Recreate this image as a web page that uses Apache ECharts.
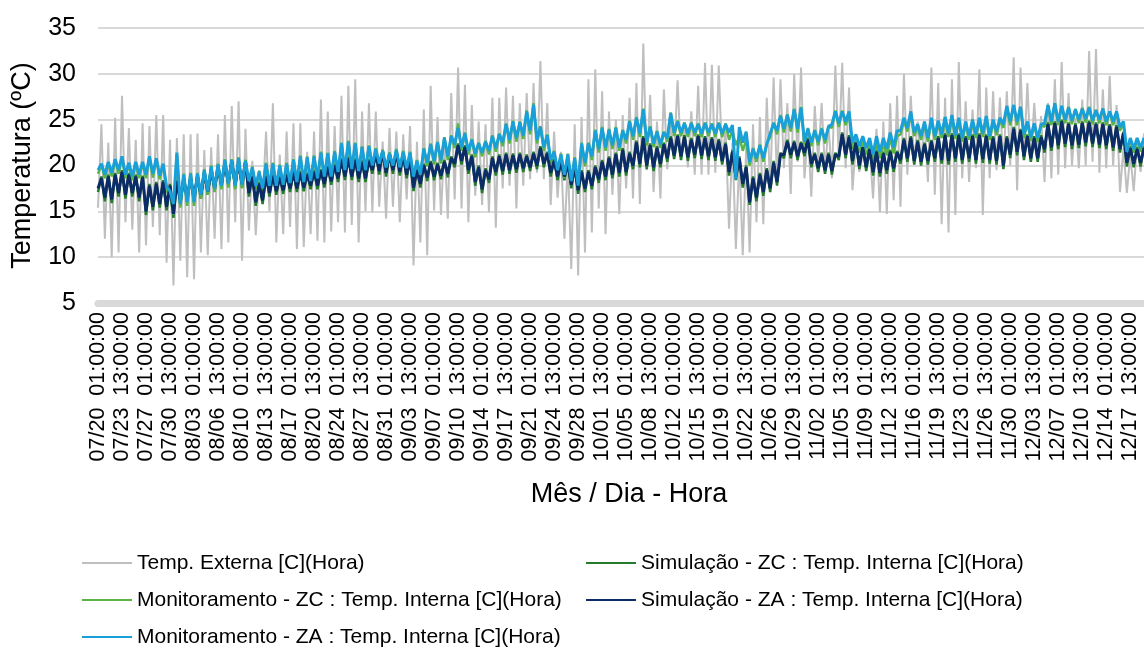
<!DOCTYPE html>
<html><head><meta charset="utf-8">
<script src="https://cdn.jsdelivr.net/npm/echarts/dist/echarts.min.js"></script>
<style>html,body{margin:0;padding:0;background:#fff}#chart{width:1144px;height:651px}</style>
</head><body><div id="chart"></div>
<script>
// 12-hourly samples (01:00 and 13:00) from 07/20 01:00 to 12/19 13:00
const extTemp = [
15.4,24.5, 12,22.5, 10,25.2, 10.5,27.6, 13.8,24.1, 13,22.8, 10.5,24.6, 11.3,24.3, 13.3,25.5, 12.4,25.5,
9.4,22.8, 6.9,23, 9.6,23.4, 7.8,23.4, 7.6,23.5, 10.5,21.7, 10.2,22, 12,23.4, 10.9,25.5, 11.6,26.5,
13.8,27, 9.6,24, 12.9,20.5, 12.4,19.5, 16,23.7, 15,26.8, 11.6,21.2, 12.5,23.7, 13.3,24.6, 10.9,24.6,
11.1,21.5, 12.5,23.7, 11.8,27.2, 11.6,25.9, 12.8,24.3, 13.8,27.6, 12.7,28.7, 13.5,29.4, 11.6,25.9, 15,26.8,
14.9,25.9, 15.5,22.6, 14.2,24.1, 15.5,23.7, 13.8,23.4, 16.3,24.3, 9.1,22.6, 11.6,26.1, 10.2,28.7, 15.1,25.3,
14.6,22.6, 14.2,27.9, 16.3,30.7, 15.3,28.8, 13.8,26.6, 16.7,24.8, 15.7,24.5, 14.9,27.4, 13.2,27.4, 17.5,28.5,
17.8,27.6, 15.3,26.8, 17.8,27.9, 18.5,29, 19.2,31.4, 18.5,26.8, 15.7,23.7, 16.5,21.5, 12,20.5, 8.7,24.5,
8,25.3, 10.5,29.4, 12.7,30.5, 15.3,28.1, 12.5,25.9, 16.8,25, 14.7,25.5, 17.5,27.4, 16.4,29, 15.8,33.3,
19.5,27.7, 17.1,24.8, 16.4,28.3, 19.6,24.5, 21,29.3, 20.6,24.5, 19.8,25.9, 19,28.7, 19,31.2, 19,31,
19.2,30.9, 20.4,24, 13.1,22.5, 10.9,21, 10.2,22, 10.5,24.5, 13.8,25.3, 13.6,27.4, 17.5,29.6, 18.2,29.4,
19.7,26.8, 16.9,30, 20.4,30.7, 18.6,23.7, 16.6,26.5, 20.4,26.8, 19.3,24.5, 18.6,30.9, 20.8,31.2, 19.7,28.5,
17.3,22.6, 19.3,21.2, 20.4,22, 16.4,24, 14.9,24.8, 14.7,26.8, 16.2,27.6, 15.5,30, 19,27.6, 20.1,24.8,
20.4,24.8, 18.2,30.7, 16.8,29, 13.6,27.4, 12.7,29.4, 14.6,31.3, 18.6,27, 18.2,26.1, 19.7,30.5, 14.6,28.5,
18.6,28.1, 19.5,27.4, 19.7,28.1, 20,31.8, 17.3,30.7, 20.8,29, 20.4,26.8, 21.2,25.4, 18.2,26.8, 18.6,29.4,
19,31.3, 19.7,27.9, 20,25.2, 19.7,27.2, 20,32.5, 20.4,32.7, 19.2,28.3, 19.7,29.8, 20,26.6, 17.1,21.9,
17,21.2, 17.2,22.6, 19.3,23.5
];
const simZC = [
17.1,18.8, 16.1,19, 15.9,19.2, 16.6,19.5, 16.4,19.2, 16.6,19, 16.1,18.9, 14.6,18, 15.1,18.2, 15.4,18.4,
15.1,18, 14.3,18.5, 15.8,18.7, 16.1,18.8, 16.1,19, 16.4,19.4, 16.8,19.7, 17.2,20, 17.6,20.4, 17.8,20.6,
17.6,20.5, 17.6,20.6, 16.6,19, 15.6,18.2, 15.8,19, 16.6,19.1, 16.8,18.9, 16.9,19.2, 17.1,19.4, 17.1,19.4,
17.2,19.2, 17.4,19.5, 17.4,19.6, 17.6,20, 17.9,20.2, 18.2,20.8, 18.4,21, 18.4,20.8, 18.2,20.6, 18.2,20.7,
19.1,21.5, 19,21.7, 18.8,21.4, 19.1,21.6, 18.9,21.3, 18.6,20.8, 17.2,19.7, 17.6,20.2, 18.3,20.5, 18.4,20.3,
18.5,20.6, 18.7,21, 19.8,22.4, 20.1,22.2, 19.1,21.2, 17.8,20, 17,19.7, 18.1,21, 18.9,21.2, 19,21.4,
19.1,21.3, 19.2,21.4, 19.3,21.2, 19.4,21.5, 19.6,22.1, 19.8,21.5, 18.8,20.7, 18.4,20.6, 18.4,20.4, 17.5,20,
16.9,19.5, 17.1,19.5, 17.4,20, 18.1,20.6, 18.4,21, 18.6,21.4, 18.8,21.9, 18.9,21.5, 19.6,22.7, 19.8,23.2,
19.6,22.4, 19.4,22.1, 19.8,22.5, 20.4,23.2, 20.7,23.4, 20.6,23.3, 20.5,23, 20.8,23.4, 20.7,23.2, 20.6,23.1,
20.5,22.9, 20.1,22.5, 18.9,21.7, 18.4,21, 17.6,20, 15.7,18.8, 16.1,19.2, 16.7,19.7, 17.1,20.5, 17.8,21.4,
20.8,22.8, 20.8,22.7, 20.6,22.6, 21,23, 19.8,21.4, 19.3,21.4, 19.1,21.4, 19,21.4, 20.6,23.6, 20.8,23.3,
20.1,22.7, 19.6,22.2, 19.4,22, 18.9,21.7, 18.8,21.5, 19.1,21.7, 19.3,21.6, 20.2,23, 20.4,23.2, 20.1,22.8,
20,22.5, 20.1,22.8, 20.4,23.2, 20.2,23.5, 20.1,23.5, 20.4,23.5, 20.2,23.2, 20.4,23.4, 20.2,23.5, 20.3,23.4,
20.2,23.2, 20.1,23.4, 19.6,23.2, 20.8,24.2, 21.1,24, 20.6,23.4, 20.4,23.2, 20.4,23.3, 21.4,24.7, 21.6,24.8,
21.8,25, 22,24.7, 21.8,24.6, 21.9,24.8, 22.1,24.9, 22,24.7, 21.9,24.7, 21.8,24.5, 21.6,24.4, 21.4,23.7,
19.9,22.1, 19.8,22, 19.9,22.1
];
const monZC = [
19.1,20.1, 18.6,20.3, 18.8,20.6, 19.1,20.9, 18.6,20.2, 18.4,20.3, 18.6,20.3, 18.6,20.9, 18.7,20.7, 18.5,20.1,
17.2,16.8, 14.6,21.2, 15.4,19.1, 15.6,19.2, 15.6,19.2, 16.4,19.6, 16.8,20, 17.1,20.2, 17.4,20.7, 17.6,20.7,
17.4,20.9, 17.5,20.6, 17.9,19.9, 17.4,19.4, 17.1,20.3, 17.4,20.3, 17.4,20.1, 17.5,20.3, 17.7,20.7, 17.8,21.1,
17.8,21, 17.9,21.1, 18.2,21.5, 18.4,21.4, 18.4,21.6, 18.9,22.5, 19.1,22.7, 19.2,22.5, 19,22.1, 19.1,22.2,
19.6,21.9, 19.8,21.7, 19.4,21.4, 19.6,21.8, 19.4,21.6, 19.3,21.5, 18.4,20.6, 18.6,21.9, 19.9,22.4, 20.1,22.6,
20.2,23.1, 20.6,23.3, 21.9,24.6, 21.6,23.6, 21.2,22.9, 20.9,22.5, 21,22.7, 21.2,23.3, 21.5,23.5, 22.1,24.6,
22.4,24.9, 22.6,24.8, 22.9,26, 23.4,26.8, 22.4,24.3, 21.6,23.4, 20.2,21.6, 19.1,21.3, 18.6,21.3, 17.9,20.9,
17.4,22.5, 19.9,22.5, 20.6,23.9, 21.4,24.2, 21.6,24, 21.8,24.2, 21.6,23.9, 22.4,24.9, 22.8,25.3, 23.1,26.2,
22.2,24.3, 22,23.8, 21.9,23.7, 22.6,25.8, 23.2,24.9, 23.2,24.7, 23.1,24.7, 23.2,24.6, 23.1,24.7, 23.2,24.6,
23.1,24.7, 23.1,24.6, 22.8,23.8, 22.2,23.2, 21.6,22.8, 20,21.9, 20.4,22.3, 20.4,22.4, 23.1,24.7, 23.4,25.5,
23.6,25.6, 23.7,26.2, 23.6,26.4, 22.2,24.1, 22.1,23.9, 22.2,24.1, 22.4,24.3, 24.1,26, 24.2,26, 24.4,25.7,
21.8,22.9, 21.4,22.6, 21.2,22.5, 20.5,22.6, 20.8,22.4, 21.1,23, 21.3,23.2, 23.4,24.9, 23.7,25.6, 23.2,24.3,
22.8,24.5, 22.6,24.9, 22.8,24.6, 23,25, 23.1,25.2, 22.9,24.9, 22.6,24.5, 22.8,24.7, 23,24.9, 23.1,25.1,
22.8,24.7, 23.3,25, 24.1,26.4, 24.4,26.6, 24.4,26.4, 23,24.7, 22.7,24.5, 22.6,24.4, 24.2,26.6, 24.4,26.8,
24.4,26.5, 24.6,26.4, 24.5,26.2, 24.6,26.3, 24.7,26.4, 24.5,26.1, 24.6,26.2, 24.4,25.9, 24.4,25.8, 23.8,24.6,
21.1,22.9, 21.4,22.9, 21.5,22.9
];
const simZA = [
17.5,18.6, 16.5,18.8, 16.3,19, 17,19.3, 16.8,19, 17,18.8, 16.5,18.7, 15,17.8, 15.5,18, 15.8,18.2,
15.5,17.8, 14.7,18.3, 16.2,18.5, 16.5,18.6, 16.5,18.8, 16.8,19.2, 17.2,19.5, 17.6,19.8, 18,20.2, 18.2,20.4,
18,20.3, 18,20.4, 17,18.8, 16,18, 16.2,18.8, 17,18.9, 17.2,18.7, 17.3,19, 17.5,19.2, 17.5,19.2,
17.6,19, 17.8,19.3, 17.8,19.4, 18,19.8, 18.3,20, 18.6,20.6, 18.8,20.8, 18.8,20.6, 18.6,20.4, 18.6,20.5,
19.5,21.3, 19.4,21.5, 19.2,21.2, 19.5,21.4, 19.3,21.1, 19,20.6, 17.6,19.5, 18,20, 18.7,20.3, 18.8,20.1,
18.9,20.4, 19.1,20.8, 20.2,22.2, 20.5,22, 19.5,21, 18.2,19.8, 17.4,19.5, 18.5,20.8, 19.3,21, 19.4,21.2,
19.5,21.1, 19.6,21.2, 19.7,21, 19.8,21.3, 20,21.9, 20.2,21.3, 19.2,20.5, 18.8,20.4, 18.8,20.2, 17.9,19.8,
17.3,19.3, 17.5,19.3, 17.8,19.8, 18.5,20.4, 18.8,20.8, 19,21.2, 19.2,21.7, 19.3,21.3, 20,22.5, 20.2,23,
20,22.2, 19.8,21.9, 20.2,22.3, 20.8,23, 21.1,23.2, 21,23.1, 20.9,22.8, 21.2,23.2, 21.1,23, 21,22.9,
20.9,22.7, 20.5,22.3, 19.3,21.5, 18.8,20.8, 18,19.8, 16,18.6, 16.5,19, 17.1,19.5, 17.5,20.3, 18.2,21.2,
21.2,22.6, 21.2,22.5, 21,22.4, 21.4,22.8, 20.2,21.2, 19.7,21.2, 19.5,21.2, 19.4,21.2, 21,23.4, 21.2,23.1,
20.5,22.5, 20,22, 19.8,21.8, 19.3,21.5, 19.2,21.3, 19.5,21.5, 19.7,21.4, 20.6,22.8, 20.8,23, 20.5,22.6,
20.4,22.3, 20.5,22.6, 20.8,23, 20.6,23.3, 20.5,23.3, 20.8,23.3, 20.6,23, 20.8,23.2, 20.6,23.3, 20.7,23.2,
20.6,23, 20.5,23.2, 20,23, 21.2,24, 21.5,23.8, 21,23.2, 20.8,23, 20.8,23.1, 21.8,24.5, 22,24.6,
22.2,24.8, 22.4,24.5, 22.2,24.4, 22.3,24.6, 22.5,24.7, 22.4,24.5, 22.3,24.5, 22.2,24.3, 22,24.2, 21.8,23.5,
20.3,21.9, 20.2,21.8, 20.3,21.9
];
const monZA = [
19.5,20.2, 19,20.4, 19.2,20.7, 19.5,21, 19,20.3, 18.8,20.4, 19,20.4, 19,21, 19.1,20.8, 18.9,20.2,
17.7,17.2, 15.8,21.4, 15.8,19, 16,19.1, 16,19.1, 16.8,19.5, 17.2,19.9, 17.5,20.1, 17.8,20.6, 18,20.6,
17.8,20.8, 17.9,20.5, 18.3,19.8, 17.8,19.3, 17.5,20.2, 17.8,20.2, 17.8,20, 17.9,20.2, 18.1,20.6, 18.2,21,
18.2,20.9, 18.3,21, 18.6,21.4, 18.8,21.3, 18.8,21.5, 19.3,22.4, 19.5,22.6, 19.6,22.4, 19.4,22, 19.5,22.1,
20,21.8, 20.2,21.6, 19.8,21.3, 20,21.7, 19.8,21.5, 19.7,21.4, 18.8,20.5, 19,21.8, 20.3,22.3, 20.5,22.5,
20.6,23, 21,23.2, 22.3,24.1, 22,23.5, 21.6,22.8, 21.3,22.4, 21.4,22.6, 21.6,23.2, 21.9,23.4, 22.5,24.5,
22.8,24.8, 23,24.7, 23.3,25.9, 23.8,26.6, 22.8,24.2, 22,23.3, 20.6,21.5, 19.5,21.2, 19,21.2, 18.3,20.8,
17.8,22.4, 20.3,22.4, 21,23.8, 21.8,24.1, 22,23.9, 22.2,24.1, 22,23.8, 22.8,24.8, 23.2,25.2, 23.5,26.1,
22.6,24.2, 22.4,23.7, 22.3,23.6, 23,25.7, 23.6,24.8, 23.6,24.6, 23.5,24.6, 23.6,24.5, 23.5,24.6, 23.6,24.5,
23.5,24.6, 23.5,24.5, 23.6,24.4, 18.5,24.2, 22.5,23.7, 20.4,21.8, 20.8,22.2, 20.8,22.3, 23.5,24.6, 23.8,25.4,
24,25.5, 24.1,26.1, 24,26.3, 22.6,24, 22.5,23.8, 22.6,24, 22.8,24.2, 24.5,25.9, 24.6,25.9, 24.8,25.9,
22.5,23.4, 22.1,23.2, 21.9,23, 21.2,23.2, 21.5,23, 21.8,23.6, 22,23.8, 23.8,25.2, 24.1,25.9, 23.6,24.5,
23.2,24.8, 23,25.2, 23.2,24.9, 23.4,25.3, 23.5,25.5, 23.3,25.2, 23,24.8, 23.2,25, 23.4,25.2, 23.5,25.4,
23.2,25, 23.7,25.2, 24.5,26.5, 24.8,26.6, 24.8,26.4, 23.4,24.8, 23.1,24.6, 23,24.5, 24.6,26.6, 24.8,26.8,
24.8,26.5, 25,26.3, 24.9,26.1, 25,26.2, 25.1,26.3, 24.9,26, 25,26.2, 24.8,25.9, 24.8,25.9, 24.2,24.8,
21.5,23, 21.8,23, 21.9,23
];
const seriesNames = [
  'Temp. Externa [C](Hora)',
  'Simulação - ZC : Temp. Interna [C](Hora)',
  'Monitoramento - ZC : Temp. Interna [C](Hora)',
  'Simulação - ZA : Temp. Interna [C](Hora)',
  'Monitoramento - ZA : Temp. Interna [C](Hora)'
];
const seriesColors = ['#bfbfbf', '#267a2c', '#5ab546', '#0b2c67', '#1aa0d8'];
const seriesWidths = [2, 2.5, 2.5, 3, 3];
const yTicks = {min: 5, max: 35, step: 5};
const axisTitles = {x: 'Mês / Dia - Hora', y: 'Temperatura (ºC)'};

// category labels: "MM/DD  HH:MM:SS", every 12 h starting 07/20 01:00
const monthLen = {7: 31, 8: 31, 9: 30, 10: 31, 11: 30, 12: 31};
const pad = n => (n < 10 ? '0' : '') + n;
const categories = [];
(function () {
  let m = 7, d = 20, h = 1;
  for (let i = 0; i < extTemp.length; i++) {
    categories.push(pad(m) + '/' + pad(d) + '  ' + pad(h) + ':00:00');
    h += 12;
    if (h > 24) { h -= 24; d++; if (d > monthLen[m]) { d = 1; m++; } }
  }
})();

const FONT = "'Liberation Sans', Arial, Helvetica, sans-serif";
const dataSets = [extTemp, simZC, monZC, simZA, monZA];
const chart = echarts.init(document.getElementById('chart'), null, {renderer: 'canvas'});
const legendCommon = {
  orient: 'vertical', top: 552, itemGap: 15, itemWidth: 50, itemHeight: 2,
  icon: 'rect', padding: 0, selectedMode: false,
  textStyle: {fontSize: 21, color: '#000', fontFamily: FONT, lineHeight: 22}
};
chart.setOption({
  animation: false,
  backgroundColor: '#fff',
  grid: {left: 98, right: 0, top: 28, bottom: 348, containLabel: false},
  legend: [
    Object.assign({left: 82, data: [seriesNames[0], seriesNames[2], seriesNames[4]]}, legendCommon),
    Object.assign({left: 586, data: [seriesNames[1], seriesNames[3]]}, legendCommon)
  ],
  xAxis: {
    type: 'category', data: categories, boundaryGap: false,
    axisLine: {lineStyle: {color: '#d9d9d9', width: 7}},
    axisTick: {show: false},
    splitLine: {show: false},
    axisLabel: {interval: 6, rotate: 90, fontSize: 21.5, color: '#000', margin: 9, fontFamily: FONT},
    name: axisTitles.x, nameLocation: 'middle', nameGap: 178,
    nameTextStyle: {fontSize: 27, color: '#000', fontFamily: FONT, padding: [0, 0, 0, 16]}
  },
  yAxis: {
    type: 'value', min: yTicks.min, max: yTicks.max, interval: yTicks.step,
    axisLine: {show: false}, axisTick: {show: false},
    splitLine: {lineStyle: {color: '#d9d9d9', width: 2}},
    axisLabel: {fontSize: 25, color: '#000', margin: 22, fontFamily: FONT},
    name: axisTitles.y, nameLocation: 'middle', nameGap: 62, nameRotate: 90,
    nameTextStyle: {fontSize: 27, color: '#000', fontFamily: FONT}
  },
  series: seriesNames.map((n, i) => ({
    name: n, type: 'line', data: dataSets[i],
    symbol: 'none', showSymbol: false, smooth: false,
    lineStyle: {width: seriesWidths[i], color: seriesColors[i]},
    itemStyle: {color: seriesColors[i]},
    emphasis: {disabled: true}, z: 2 + i
  }))
});
</script></body></html>
